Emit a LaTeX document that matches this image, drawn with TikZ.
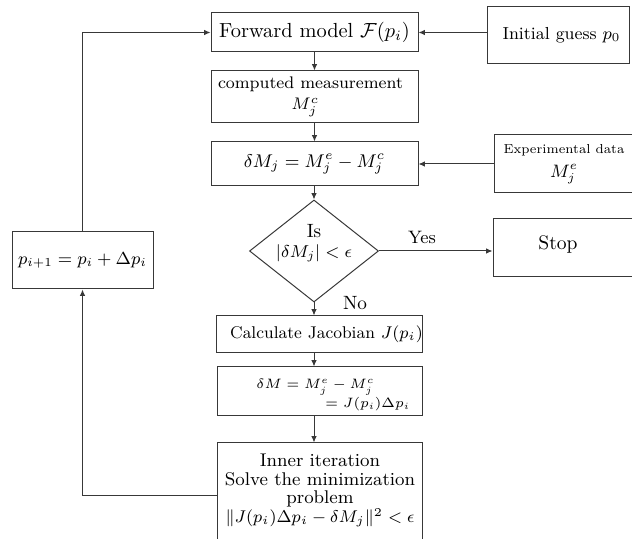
\RequirePackage{fix-cm}
\documentclass[tikz,border=0pt]{standalone}
\usetikzlibrary{shapes.geometric,arrows.meta}
\begin{document}
\begin{tikzpicture}[x=0.5pt,y=-0.5pt,
  box/.style={draw=black!78, line width=0.5pt, inner sep=0pt, align=center},
  txt/.style={inner sep=0pt, align=center},
  arr/.style={draw=black!78, line width=0.5pt, -{Latex[length=3.2pt,width=2.8pt]}},
  fA/.style={font=\fontsize{10.2}{12}\selectfont}]
\useasboundingbox (0,0) rectangle (632,539);
\clip (0,0) rectangle (632,539);
% boxes
\node[box, fA, minimum width=103.5pt, minimum height=19.5pt] (fwd) at (314.5,32.5) {Forward model $\mathcal{F}(p_i)$};
\node[box, font=\fontsize{8.7}{10.5}\selectfont, minimum width=71pt, minimum height=28.5pt] (init) at (558,35.5) {\hspace*{3.5pt}Initial guess $p_0$};
\node[box, font=\fontsize{8.4}{10.5}\selectfont, minimum width=103.5pt, minimum height=26pt] (comp) at (314.5,97) {computed measurement\hspace*{4pt}\\[0pt]\hspace*{-9pt}$M_j^c$};
\node[box, font=\fontsize{9.2}{12}\selectfont, minimum width=103.5pt, minimum height=22pt] (dMj) at (314.5,164) {$\delta M_j = M_j^e - M_j^c$};
\node[box, font=\fontsize{6.5}{12}\selectfont, minimum width=70pt, minimum height=29pt] (exp) at (564,164) {Experimental data\\{\fontsize{9}{10}\selectfont$M_j^e$}};
\node[box, diamond, minimum width=64.5pt, minimum height=51pt] (dia) at (314,251) {};
\node[txt, font=\fontsize{8.6}{10}\selectfont] (dtext) at (314,243) {{\fontsize{9.6}{10}\selectfont Is}\\$|\delta M_j| < \epsilon$};
\node[box, minimum width=73.5pt, minimum height=29pt] (stop) at (566.5,248) {};
\node[txt, font=\fontsize{9.8}{12}\selectfont] (stoptxt) at (558,244) {Stop};
\node[box, font=\fontsize{8.5}{10}\selectfont, minimum width=102.5pt, minimum height=18.5pt] (jac) at (319.5,334.5) {\hspace*{7pt}Calculate Jacobian $J(p_i)$};
\node[box, minimum width=102.5pt, minimum height=24.5pt] (dM2) at (319.5,391.5) {};
\node[txt, font=\fontsize{6.8}{10}\selectfont, anchor=west] (dM2a) at (256,387) {$\delta M = M_j^e - M_j^c$};
\node[txt, font=\fontsize{6.8}{10}\selectfont, anchor=west] (dM2b) at (325,404) {$= J(p_i)\Delta p_i$};
\node[box, minimum width=102.5pt, minimum height=52.5pt] (inner) at (319.5,495.5) {};
\node[txt, font=\fontsize{9.2}{9.2}\selectfont] (innertxt) at (320,490.5) {Inner iteration\\Solve the minimization\\problem\\{\fontsize{8.5}{9}\selectfont$\|J(p_i)\Delta p_i - \delta M_j\|^2 < \epsilon$}};
\node[box, font=\fontsize{8.7}{12}\selectfont, minimum width=70.5pt, minimum height=28.5pt] (p) at (82.5,260.5) {$p_{i+1} = p_i + \Delta p_i$};
% labels
\node[txt, font=\fontsize{9}{10}\selectfont] (yes) at (422,237) {Yes};
\node[txt, font=\fontsize{9.6}{10}\selectfont] (no) at (355,303) {No};
% connectors
\draw[arr] (init.west |- fwd.east) -- (fwd.east);
\draw[arr] (fwd.south) -- (comp.north);
\draw[arr] (comp.south) -- (dMj.north);
\draw[arr] (exp.west |- dMj.east) -- (dMj.east);
\draw[arr] (dMj.south -| dia.north) -- (dia.north);
\draw[arr] (dia.east) -- (dia.east -| stop.west);
\draw[arr] (dia.south) -- (dia.south |- jac.north);
\draw[arr] (jac.south -| dia.south) -- (dM2.north -| dia.south);
\draw[arr] (dM2.south -| dia.south) -- (inner.north -| dia.south);
\draw[arr] (inner.west) -| (p.south);
\draw[arr] (p.north) |- (fwd.west);
\end{tikzpicture}
\end{document}
